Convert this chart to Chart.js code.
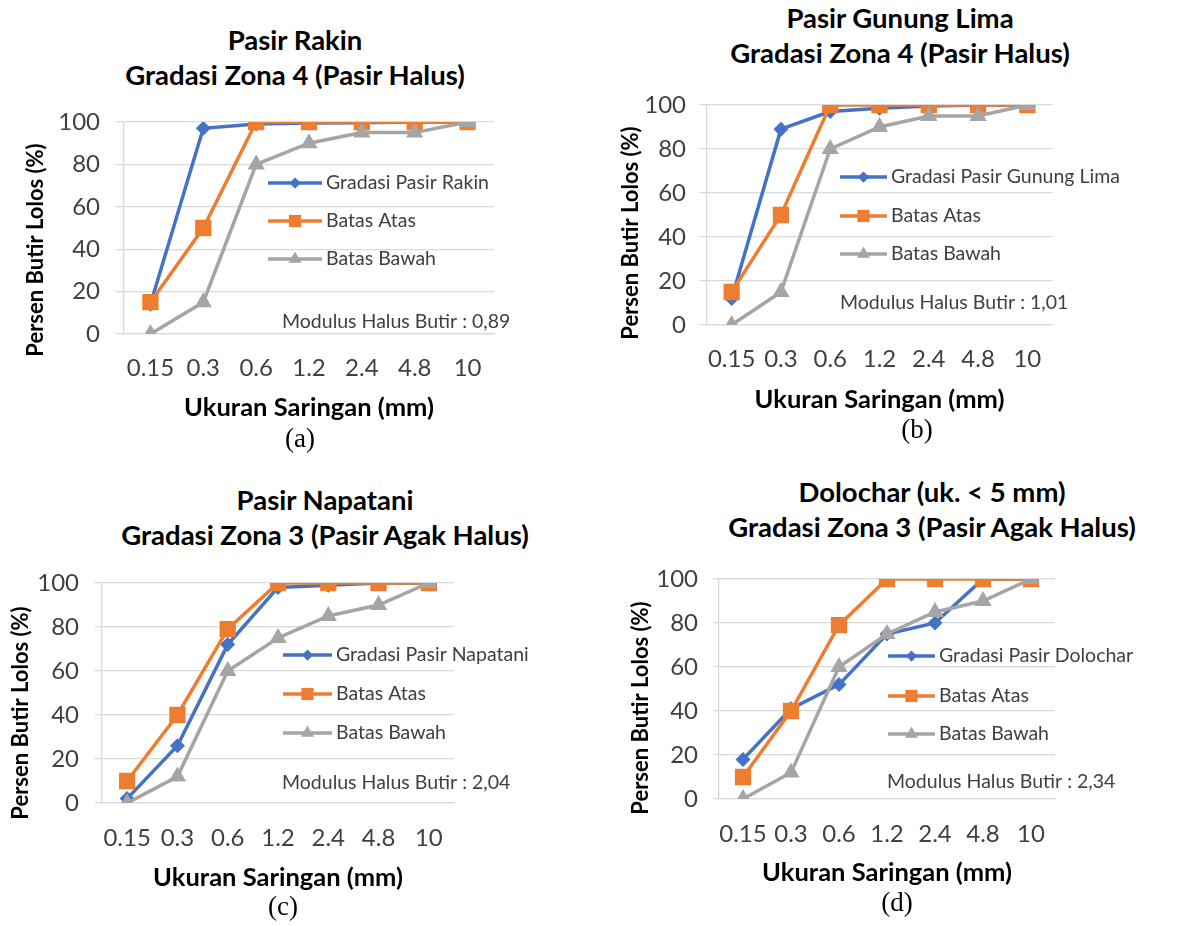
<!DOCTYPE html>
<html>
<head>
<meta charset="utf-8">
<script src="https://cdn.jsdelivr.net/npm/chart.js@4.4.1/dist/chart.umd.min.js"></script>
<style>
  body { margin: 0; background: #fff; }
  #page { position: relative; width: 1187px; height: 926px; overflow: hidden; }
  .box { position: absolute; }
  .head { position: absolute; font-family: Lato, sans-serif; font-weight: bold; font-size: 27.5px;
          color: #000; text-align: center; line-height: 35px; white-space: nowrap; }
  .cap { position: absolute; font-family: "Liberation Serif", serif; font-size: 27px; color: #000;
         line-height: 31px; transform: translateX(-50%); }
</style>
</head>
<body>
<div id="page">
  <div class="head" style="left:95px; top:22px; width:400px;">Pasir Rakin<br>Gradasi Zona 4 (Pasir Halus)</div>
  <div class="head" style="left:700px; top:0px; width:400px;">Pasir Gunung Lima<br>Gradasi Zona 4 (Pasir Halus)</div>
  <div class="head" style="left:105px; top:482px; width:440px;">Pasir Napatani<br>Gradasi Zona 3 (Pasir Agak Halus)</div>
  <div class="head" style="left:712px; top:474px; width:440px;">Dolochar (uk. &lt; 5 mm)<br>Gradasi Zona 3 (Pasir Agak Halus)</div>

  <div class="box" style="left:0px; top:88px; width:520px; height:337px;"><canvas id="chartA"></canvas></div>
  <div class="box" style="left:600px; top:71px; width:587px; height:347px;"><canvas id="chartB"></canvas></div>
  <div class="box" style="left:0px; top:549px; width:560px; height:347px;"><canvas id="chartC"></canvas></div>
  <div class="box" style="left:600px; top:545px; width:587px; height:346px;"><canvas id="chartD"></canvas></div>

  <div class="cap" style="left:300px; top:423px;">(a)</div>
  <div class="cap" style="left:917px; top:414px;">(b)</div>
  <div class="cap" style="left:283px; top:891px;">(c)</div>
  <div class="cap" style="left:897px; top:887px;">(d)</div>
</div>

<script>
// ukuran saringan (mm)
var saringan = ["0.15", "0.3", "0.6", "1.2", "2.4", "4.8", "10"]

// batas gradasi zona 4 dan zona 3
var zona4Atas = [15, 50, 100, 100, 100, 100, 100]
var zona4Bawah = [0, 15, 80, 90, 95, 95, 100]
var zona3Atas = [10, 40, 79, 100, 100, 100, 100]
var zona3Bawah = [0, 12, 60, 75, 85, 90, 100]

// gradasi tiap pasir
var pasirRakin = [14, 97, 99, 99.5, 99.7, 100, 100]
var pasirGunungLima = [12, 89, 97, 98.5, 99.5, 100, 100]
var pasirNapatani = [2, 26, 72, 98, 99, 100, 100]
var pasirDolochar = [18, 41, 52, 75, 80, 100, 100]

var yTicks = [0, 20, 40, 60, 80, 100]

var BLUE = "#4472C4", ORANGE = "#ED7D31", GRAY = "#A5A5A5"
var FONT = "Lato, sans-serif"

// legend di dalam area plot, teks modulus halus, judul sumbu y
var insideText = {
   id: "insideText",
   afterDatasetsDraw: function (chart, args, opts) {
      var c = chart.ctx
      c.save()
      c.font = "19.5px " + FONT
      c.textBaseline = "middle"
      c.textAlign = "left"
      chart.data.datasets.forEach(function (ds, i) {
         var y = opts.rows[i]
         c.strokeStyle = ds.borderColor
         c.lineWidth = 3.5
         c.beginPath()
         c.moveTo(opts.x0, y)
         c.lineTo(opts.x1, y)
         c.stroke()
         c.fillStyle = ds.backgroundColor
         Chart.helpers.drawPoint(c, { pointStyle: ds.pointStyle, radius: ds.pointRadius * 0.75, rotation: 0, borderWidth: 0 }, (opts.x0 + opts.x1) / 2, y)
         c.fillStyle = "#404040"
         c.fillText(ds.label, opts.x1 + 4, y)
      })
      c.fillStyle = "#404040"
      c.fillText(opts.modulus, opts.mx, opts.my)

      // judul sumbu y (sedikit di bawah tengah area plot, seperti aslinya)
      c.translate(opts.tx, opts.ty)
      c.rotate(-Math.PI / 2)
      c.font = "bold 22px " + FONT
      c.fillStyle = "#000"
      c.textAlign = "center"
      c.fillText("Persen Butir Lolos (%)", 0, 0)
      c.restore()
   },
}

function makeChart(id, nama, gradasi, atas, bawah, lay) {
   var ctx = document.getElementById(id).getContext("2d")
   return new Chart(ctx, {
      type: "line",
      data: {
         labels: saringan,
         datasets: [
            {
               label: nama,
               data: gradasi,
               borderColor: BLUE,
               backgroundColor: BLUE,
               borderWidth: 3.5,
               pointStyle: "rectRot",
               pointRadius: 7.5,
               pointBorderWidth: 0,
               order: 3,
            },
            {
               label: "Batas Atas",
               data: atas,
               borderColor: ORANGE,
               backgroundColor: ORANGE,
               borderWidth: 3.5,
               pointStyle: "rect",
               pointRadius: 11.5,
               pointBorderWidth: 0,
               order: 2,
            },
            {
               label: "Batas Bawah",
               data: bawah,
               borderColor: GRAY,
               backgroundColor: GRAY,
               borderWidth: 3.5,
               pointStyle: "triangle",
               pointRadius: 10,
               pointBorderWidth: 0,
               order: 1,
            },
         ],
      },
      options: {
         responsive: true,
         maintainAspectRatio: false,
         animation: false,
         layout: { padding: { left: 0, right: lay.padRight, top: 34, bottom: 0 } },
         plugins: {
            legend: { display: false },
            tooltip: { enabled: false },
            insideText: lay.inside,
         },
         scales: {
            x: {
               offset: true,
               grid: { display: false, drawTicks: false },
               border: { display: true, color: "#d9d9d9", width: 1.3 },
               ticks: { color: "#404040", font: { family: FONT, size: 24 }, padding: lay.xTickPad, maxRotation: 0, autoSkip: false },
               title: {
                  display: true,
                  text: "Ukuran Saringan (mm)",
                  color: "#000",
                  font: { family: FONT, size: 25.5, weight: "bold" },
                  padding: { top: 0, bottom: lay.xTitlePad },
               },
               afterFit: function (s) { s.height = lay.xHeight },
            },
            y: {
               min: 0,
               max: 100,
               afterBuildTicks: function (s) { s.ticks = yTicks.map(function (v) { return { value: v } }) },
               grid: { color: "#d9d9d9", lineWidth: 1.3, tickLength: lay.tickLen },
               border: { display: true, color: "#d9d9d9", width: 1.3 },
               ticks: { color: "#404040", font: { family: FONT, size: 24 }, padding: lay.yTickPad },
               title: { display: false },
               afterFit: function (s) { s.width = lay.yWidth },
            },
         },
      },
      plugins: [insideText],
   })
}

makeChart("chartA", "Gradasi Pasir Rakin", pasirRakin, zona4Atas, zona4Bawah, {
   padRight: 26, xHeight: 91, xTickPad: 19.6, xTitlePad: 1.7, yWidth: 124, tickLen: 8, yTickPad: 16,
   inside: { x0: 268, x1: 322, rows: [95, 133, 171], modulus: "Modulus Halus Butir : 0,89", mx: 282, my: 234, tx: 36, ty: 162 },
})
makeChart("chartB", "Gradasi Pasir Gunung Lima", pasirGunungLima, zona4Atas, zona4Bawah, {
   padRight: 135, xHeight: 93, xTickPad: 19.6, xTitlePad: 2.7, yWidth: 107, tickLen: 7, yTickPad: 14,
   inside: { x0: 240, x1: 287, rows: [106, 145, 183], modulus: "Modulus Halus Butir : 1,01", mx: 240, my: 232, tx: 31, ty: 162 },
})
makeChart("chartC", "Gradasi Pasir Napatani", pasirNapatani, zona3Atas, zona3Bawah, {
   padRight: 106, xHeight: 93, xTickPad: 20.6, xTitlePad: 2.7, yWidth: 102, tickLen: 7, yTickPad: 16,
   inside: { x0: 283, x1: 332, rows: [106, 145, 184], modulus: "Modulus Halus Butir : 2,04", mx: 282, my: 234, tx: 21, ty: 164 },
})
makeChart("chartD", "Gradasi Pasir Dolochar", pasirDolochar, zona3Atas, zona3Bawah, {
   padRight: 132, xHeight: 92, xTickPad: 20.6, xTitlePad: 2.7, yWidth: 119, tickLen: 6, yTickPad: 15,
   inside: { x0: 288, x1: 335, rows: [111, 151, 189], modulus: "Modulus Halus Butir : 2,34", mx: 287, my: 237, tx: 41, ty: 163 },
})
</script>
</body>
</html>
